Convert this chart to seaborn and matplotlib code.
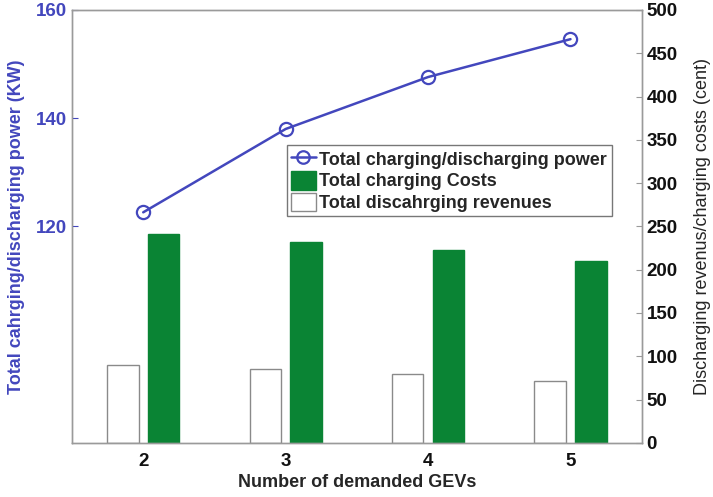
import matplotlib
matplotlib.use("Agg")
import matplotlib.pyplot as plt
from matplotlib.lines import Line2D
from matplotlib.patches import Patch
import seaborn as sns
import pandas as pd

# values
gevs = [2, 3, 4, 5]
power_kw = [122.6, 138.0, 147.6, 154.6]
charging_costs = [241, 232.5, 223, 209.5]
discharging_revenues = [90, 85.5, 79, 71]

line_color = "#4347bd"
green = "#0a8434"

sns.set_style("white")
plt.rcParams["font.family"] = ["Liberation Sans", "DejaVu Sans"]
plt.rcParams["font.weight"] = "bold"

df = pd.DataFrame({
    "gev": gevs * 2,
    "value": discharging_revenues + charging_costs,
    "series": ["Total discahrging revenues"] * 4 + ["Total charging Costs"] * 4,
})

fig = plt.figure(figsize=(7.13, 4.97), dpi=100)
ax = fig.add_axes([0.101, 0.109, 0.799, 0.871])

# bars on the primary axes, shown with the right-hand scale
sns.barplot(data=df, x="gev", y="value", hue="series",
            hue_order=["Total discahrging revenues", "Total charging Costs"],
            palette=["white", green], saturation=1, native_scale=True,
            width=0.572, gap=0.23, edgecolor="#8a8a8a", linewidth=1.0,
            legend=False, ax=ax)
for p in ax.patches:
    if p.get_facecolor()[1] > 0.9:
        continue
    p.set_edgecolor(green)
ax.set_ylim(0, 500)
ax.set_yticks(range(0, 501, 50))
ax.set_xlim(1.5, 5.5)
ax.set_xticks(gevs)
ax.set_xticklabels([str(g) for g in gevs])
ax.set_xlabel("Number of demanded GEVs", fontsize=13, fontweight="bold", labelpad=3)

# line on the twin axes, shown with the left-hand scale
ax2 = ax.twinx()
sns.lineplot(x=gevs, y=power_kw, ax=ax2, color=line_color, linewidth=1.8,
             marker="o", markersize=9.5, markerfacecolor="none",
             markeredgecolor=line_color, markeredgewidth=1.6)
ax2.set_ylim(80, 160)
ax2.set_yticks([120, 140, 160])

# swap sides: bars scale on the right, power scale on the left
ax.yaxis.tick_right()
ax.yaxis.set_label_position("right")
ax2.yaxis.tick_left()
ax2.yaxis.set_label_position("left")

ax.set_ylabel("Discharging revenus/charging costs (cent)", fontsize=13,
              fontweight="normal", labelpad=12)
ax2.set_ylabel("Total cahrging/discharging power (KW)", fontsize=13,
               fontweight="bold", color=line_color, labelpad=8)
ax2.tick_params(axis="y", colors=line_color, labelcolor=line_color,
                direction="in", length=4, labelsize=13.5)

ax.tick_params(axis="y", direction="in", length=4, labelsize=13.5,
               colors="#9a9a9a", labelcolor="#111111")
ax.tick_params(axis="x", direction="in", length=4, labelsize=13.5,
               colors="#9a9a9a", labelcolor="#111111", pad=7)
for a in (ax, ax2):
    for s in a.spines.values():
        s.set_color("#9a9a9a")
        s.set_linewidth(1.0)

handles = [
    Line2D([0], [0], color=line_color, linewidth=1.8, marker="o", markersize=9,
           markerfacecolor="none", markeredgewidth=1.6),
    Patch(facecolor=green, edgecolor=green),
    Patch(facecolor="white", edgecolor="#8a8a8a"),
]
labels = ["Total charging/discharging power", "Total charging Costs",
          "Total discahrging revenues"]
leg = ax2.legend(handles, labels, loc="upper left", bbox_to_anchor=(0.377, 0.688),
                 borderaxespad=0, fancybox=False, frameon=True, fontsize=13,
                 handlelength=1.35, handleheight=1.2, handletextpad=0.2,
                 labelspacing=0.12, borderpad=0.25)
leg.get_frame().set_edgecolor("#555555")
leg.get_frame().set_linewidth(1.0)

fig.savefig("out.png", dpi=100)
